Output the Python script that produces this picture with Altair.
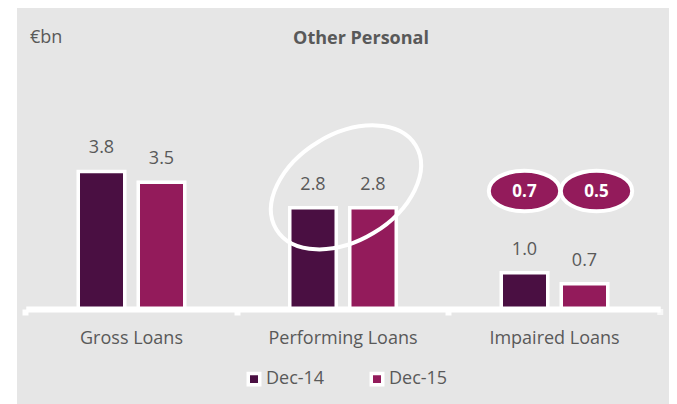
import altair as alt
import pandas as pd

# ---- data ----
categories = ["Gross Loans", "Performing Loans", "Impaired Loans"]
series = ["Dec-14", "Dec-15"]
dec14 = [3.8, 2.8, 1.0]
dec15 = [3.5, 2.8, 0.7]
oval_category = "Impaired Loans"
oval_labels = ["0.7", "0.5"]
colors = ["#4a0f42", "#931b5b"]

rows = []
for c, a, b in zip(categories, dec14, dec15):
    rows.append({"category": c, "series": series[0], "value": a, "label": f"{a:.1f}"})
    rows.append({"category": c, "series": series[1], "value": b, "label": f"{b:.1f}"})
df = pd.DataFrame(rows)
ovals = pd.DataFrame({"category": [oval_category] * 2, "series": series, "label": oval_labels})
one = pd.DataFrame({"k": [0]})

FONT = "Open Sans"
GREY_TXT = "#595959"
PX_PER_UNIT = 36.2
PLOT_H = 301
W = 661

x_scale = alt.Scale(domain=categories, range=[17.75, 652.25], paddingInner=0, paddingOuter=0)
y_scale = alt.Scale(domain=[0, PLOT_H / PX_PER_UNIT], nice=False, zero=True)
color_scale = alt.Scale(domain=series, range=colors)


def ellipse_path(r):
    k = 0.5523
    return (f"M 1 0 C 1 {k*r:.4f} {k:.4f} {r} 0 {r} "
            f"C {-k:.4f} {r} -1 {k*r:.4f} -1 0 "
            f"C -1 {-k*r:.4f} {-k:.4f} {-r} 0 {-r} "
            f"C {k:.4f} {-r} 1 {-k*r:.4f} 1 0 Z")


X = alt.X("category:N", scale=x_scale, sort=categories,
          axis=alt.Axis(title=None, orient="bottom", domainColor="white", domainWidth=6,
                        tickColor="white", tickWidth=6, tickSize=6, bandPosition=0,
                        labelFont=FONT, labelFontSize=18, labelColor=GREY_TXT,
                        labelPadding=14, labelAngle=0, grid=False, zindex=1))
Y = alt.Y("value:Q", scale=y_scale, axis=None)
C = alt.Color("series:N", scale=color_scale,
              legend=alt.Legend(title=None, orient="none", legendX=237, legendY=362,
                                direction="horizontal", symbolType="square", symbolSize=132,
                                symbolStrokeColor="white", symbolStrokeWidth=3.5,
                                labelFont=FONT, labelFontSize=18, labelColor=GREY_TXT,
                                labelOffset=3, columnPadding=39, padding=0))

bg = alt.Chart(one).mark_rect(color="#e6e6e6").encode(
    x=alt.value(9), x2=alt.value(W), y=alt.value(0), y2=alt.value(396))

base = alt.Chart(df)
offsets = {series[0]: -30, series[1]: 30}

layers = [bg]
for s in series:
    layers.append(base.transform_filter(alt.datum.series == s).mark_bar(
        width=46.5, xOffset=offsets[s], stroke="white", strokeWidth=3.5, opacity=1
    ).encode(x=X, y=Y, color=C))
for s in series:
    layers.append(base.transform_filter(alt.datum.series == s).mark_text(
        xOffset=offsets[s], dy=-18, baseline="alphabetic", align="center",
        font=FONT, fontSize=18, color=GREY_TXT
    ).encode(x=X, y=Y, text="label:N"))

# closing tick at the right end of the baseline
layers.append(alt.Chart(pd.DataFrame({"category": [categories[-1]]})).mark_tick(
    color="white", thickness=6, size=6, orient="vertical", xOffset=105.75, yOffset=3
).encode(x=X, y=alt.datum(0)))

# highlight ellipse around performing loans
layers.append(alt.Chart(pd.DataFrame({"category": ["Performing Loans"]})).mark_point(
    shape=ellipse_path(0.655), size=26500, angle=329, filled=False, stroke="white",
    strokeWidth=4, opacity=1, xOffset=3
).encode(x=X, y=alt.datum(3.36)))

# coverage ovals
oval_off = {series[0]: -30, series[1]: 42}
for s in series:
    od = alt.Chart(ovals).transform_filter(alt.datum.series == s)
    layers.append(od.mark_point(
        shape=ellipse_path(0.57), size=5100, filled=True, fill=colors[1], stroke="white",
        strokeWidth=4, opacity=1, xOffset=oval_off[s]
    ).encode(x=X, y=alt.datum(3.26)))
    layers.append(od.mark_text(
        xOffset=oval_off[s], baseline="middle", align="center", dy=1,
        font=FONT, fontSize=17, fontWeight="bold", color="white"
    ).encode(x=X, y=alt.datum(3.26), text="label:N"))

layers.append(alt.Chart(one).mark_text(
    text="Other Personal", font=FONT, fontSize=18, fontWeight="bold", color=GREY_TXT,
    align="center", baseline="alphabetic"
).encode(x=alt.value(353), y=alt.value(36)))
layers.append(alt.Chart(one).mark_text(
    text="€bn", font=FONT, fontSize=18, color=GREY_TXT, align="left", baseline="alphabetic"
).encode(x=alt.value(22), y=alt.value(35)))

chart = alt.layer(*layers).properties(
    width=W, height=PLOT_H,
    padding={"left": 0, "top": 0, "right": 0, "bottom": 95},
    autosize=alt.AutoSizeParams(type="none"),
    background="white",
).configure_view(stroke=None)

chart.save("out.html", embed_options={"renderer": "svg", "actions": False})
